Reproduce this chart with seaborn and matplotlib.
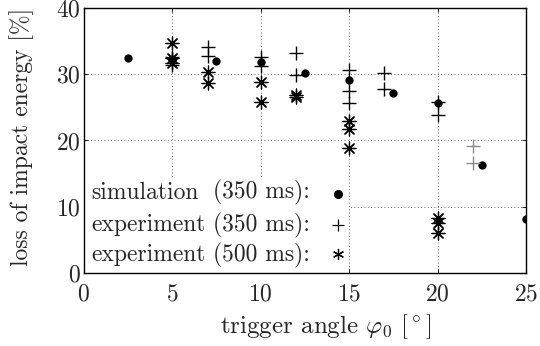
import numpy as np
import pandas as pd
import matplotlib
matplotlib.use("Agg")
import matplotlib.pyplot as plt
from matplotlib.patches import Rectangle
import seaborn as sns

# ── Data ──────────────────────────────────────────────────────────────────────
sim_angle = [2.5, 5, 7.5, 10, 12.5, 15, 17.5, 20, 22.5, 25]
sim_loss = [32.4, 32.2, 32.0, 31.8, 30.1, 29.1, 27.2, 25.6, 16.3, 8.2]

exp350_angle = [5, 5, 7, 7, 10, 10, 12, 12, 15, 15, 15, 17, 17, 20, 20]
exp350_loss = [32.6, 31.4, 34.1, 32.7, 32.6, 31.2, 33.2, 29.8, 30.6, 27.4, 25.7,
               30.2, 27.7, 25.8, 23.8]
exp350g_angle = [22, 22]
exp350g_loss = [19.2, 16.6]

exp500_angle = [5, 5, 5, 7, 7, 10, 10, 12, 12, 15, 15, 15, 20, 20, 20]
exp500_loss = [34.6, 32.4, 31.6, 30.3, 28.6, 28.8, 25.8, 26.9, 26.5, 23.0, 21.8,
               18.9, 8.4, 7.6, 6.0]

legend_names = ["simulation", "experiment", "experiment"]
legend_times = ["(350 ms):", "(350 ms):", "(500 ms):"]

x_ticks = [0, 5, 10, 15, 20, 25]
y_ticks = [0, 10, 20, 30, 40]

# ── Style ─────────────────────────────────────────────────────────────────────
sns.set_style("ticks")
plt.rcParams["font.family"] = ["cmr10", "DejaVu Serif"]
plt.rcParams["mathtext.fontset"] = "cm"
plt.rcParams["axes.formatter.use_mathtext"] = True
FS = 17

fig = plt.figure(figsize=(5.4, 3.46), dpi=100)
ax = fig.add_axes([0.155, 0.21, 0.819, 0.768])

ast = (8, 2, 0)
sns.scatterplot(x=sim_angle, y=sim_loss, marker="o", s=36, color="black",
                edgecolor="black", linewidth=0, ax=ax, zorder=3)
sns.scatterplot(x=exp350_angle, y=exp350_loss, marker="+", s=95, color="black",
                linewidth=1.0, ax=ax, zorder=3)
sns.scatterplot(x=exp350g_angle, y=exp350g_loss, marker="+", s=95, color="#8a8a8a",
                linewidth=1.0, ax=ax, zorder=3)
sns.scatterplot(x=exp500_angle, y=exp500_loss, marker=ast, s=85, color="black",
                linewidth=0.9, ax=ax, zorder=3)

ax.set_xlim(0, 25)
ax.set_ylim(0, 40)
ax.set_xticks(x_ticks)
ax.set_yticks(y_ticks)
ax.tick_params(direction="in", top=True, right=True, length=3, width=0.8,
               labelsize=FS)
ax.tick_params(axis="x", pad=7)
ax.tick_params(axis="y", pad=2)
for s in ax.spines.values():
    s.set_linewidth(1.0)
    s.set_color("black")
ax.grid(True, linestyle=(0, (1, 3)), color="black", linewidth=0.6, alpha=0.8)
ax.set_axisbelow(True)

ax.set_xlabel(r"trigger angle $\varphi_0$ [$^\circ$]", fontsize=18)
ax.xaxis.set_label_coords(0.547, -0.148)
ax.set_ylabel("loss of impact energy [%]", fontsize=FS)
ax.yaxis.set_label_coords(-0.113, 0.515)

# hand-made legend: white box over the grid, names / times / marker columns
ax.add_patch(Rectangle((0.0, 0.0), 0.6, 0.355, transform=ax.transAxes,
                       facecolor="white", edgecolor="none", zorder=2.5))
rows_y = [0.28, 0.158, 0.045]
mark_y = [0.30, 0.181, 0.071]
for i, (nm, tm) in enumerate(zip(legend_names, legend_times)):
    ax.text(0.018, rows_y[i], nm, transform=ax.transAxes, fontsize=FS,
            va="baseline", ha="left", zorder=4)
    ax.text(0.293, rows_y[i], tm, transform=ax.transAxes, fontsize=FS,
            va="baseline", ha="left", zorder=4)
ax.plot([0.574], [mark_y[0]], marker="o", color="black", markersize=5.5,
        linestyle="none", transform=ax.transAxes, zorder=4)
ax.plot([0.574], [mark_y[1]], marker="+", color="black", markersize=9,
        markeredgewidth=0.9, linestyle="none", transform=ax.transAxes, zorder=4)
ax.plot([0.574], [mark_y[2]], marker=(6, 2, 0), color="black", markersize=8,
        markeredgewidth=0.9, linestyle="none", transform=ax.transAxes, zorder=4)

fig.savefig("out.png", dpi=100)
